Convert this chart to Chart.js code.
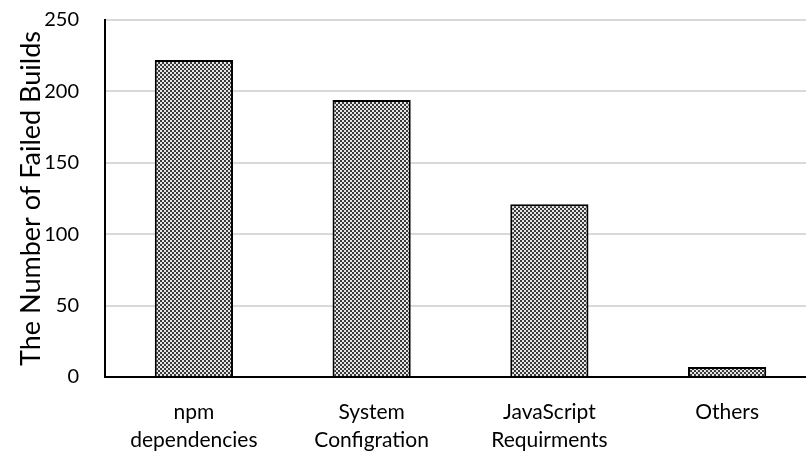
<!DOCTYPE html>
<html><head><meta charset="utf-8">
<script src="https://cdn.jsdelivr.net/npm/chart.js@4"></script>
<style>html,body{margin:0;padding:0;background:#fff;overflow:hidden}#w{width:816px;height:458px}</style>
</head><body><div id="w"><canvas id="c"></canvas></div>
<script>
const categories = [["npm","dependencies"],["System","Configration"],["JavaScript","Requirments"],["Others"]];
const failedBuilds = [222, 194, 121, 7];
const yTicks = [0, 50, 100, 150, 200, 250];

function makePattern(){
  const p = document.createElement('canvas');
  p.width = 4; p.height = 4;
  const g = p.getContext('2d');
  g.fillStyle = '#e6e6e6'; g.fillRect(0,0,4,4);
  g.fillStyle = '#3a3a3a';
  g.fillRect(0,0,2,2); g.fillRect(2,2,2,2);
  return document.getElementById('c').getContext('2d').createPattern(p,'repeat');
}
Chart.defaults.font.family = 'Lato, "Open Sans", sans-serif';
Chart.defaults.color = '#000';
new Chart(document.getElementById('c'), {
  type: 'bar',
  data: { labels: categories, datasets: [{ data: failedBuilds, backgroundColor: makePattern(), borderColor: '#000', borderWidth: 2, barPercentage: 0.44, categoryPercentage: 1 }] },
  options: {
    responsive: true, maintainAspectRatio: false, animation: false,
    layout: { padding: { top: 20, right: 0, left: 15, bottom: 0 } },
    plugins: { legend: { display: false }, tooltip: { enabled: false } },
    scales: {
      x: { grid: { display: false, drawTicks: false }, border: { color: '#000', width: 2 },
           ticks: { font: { size: 21, lineHeight: 1.3 }, padding: 22, maxRotation: 0 },
           afterFit: ax => { ax.height = 81; ax.paddingLeft = 0; ax.paddingRight = 0; } },
      y: { min: 0, max: 250, afterBuildTicks: ax => { ax.ticks = yTicks.map(v => ({ value: v })); },
           grid: { color: '#d9d9d9', lineWidth: 2, drawTicks: false }, border: { color: '#000', width: 2 },
           ticks: { font: { size: 20 }, padding: 26 },
           title: { display: true, text: 'The Number of Failed Builds', font: { size: 27 }, padding: { top: 0, bottom: 0 } },
           afterFit: ax => { ax.width = 90; ax.paddingTop = 0; ax.paddingBottom = 0; } }
    }
  }
});
</script></body></html>
